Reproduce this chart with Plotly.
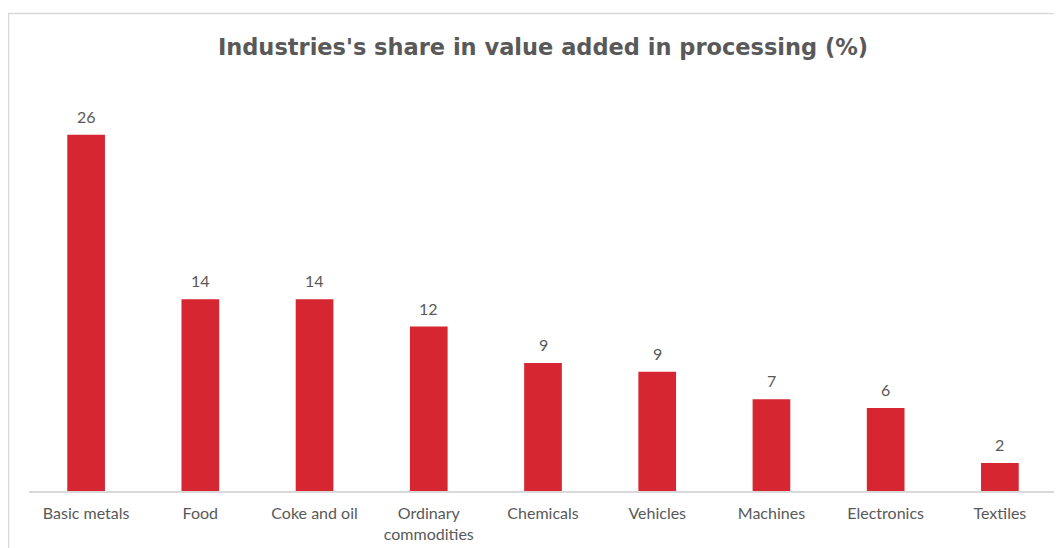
import plotly.graph_objects as go

categories = ["Basic metals", "Food", "Coke and oil", "Ordinary<br>commodities", "Chemicals",
              "Vehicles", "Machines", "Electronics", "Textiles"]
values = [26, 14, 14, 12, 9.35, 8.7, 6.7, 6.05, 2.05]

fig = go.Figure(go.Bar(
    x=categories, y=values,
    marker=dict(color="#D52631", line=dict(width=0)),
    width=0.33,
    hoverinfo="x+y",
))

for c, v in zip(categories, values):
    fig.add_annotation(x=c, y=v, text=f"{v:.0f}", showarrow=False,
                       yanchor="bottom", yshift=7,
                       font=dict(family="Lato, Open Sans, sans-serif", size=16, color="#595959"))

# the page body adds an 8px offset, so the figure is sized to fit the window
fig.update_layout(
    width=1054, height=540,
    margin=dict(l=21, r=5, t=72, b=57),
    paper_bgcolor="white", plot_bgcolor="white",
    title=dict(text="<b>Industries's share in value added in processing (%)</b>",
               x=0.5, xref="paper", xanchor="center", y=1 - 39 / 540, yref="container", yanchor="middle",
               font=dict(family="DejaVu Sans", size=22.5, color="#595959")),
    showlegend=False,
    shapes=[dict(type="rect", xref="paper", yref="paper",
                 x0=-20.5 / 1028, x1=1.05, y0=-0.3, y1=1 + 66.5 / 411,
                 line=dict(color="#D9D9D9", width=1.5), fillcolor="rgba(0,0,0,0)", layer="below")],
)
fig.update_xaxes(showline=True, linecolor="#D9D9D9", linewidth=1.5, showgrid=False, ticks="",
                 automargin=False, ticklabelstandoff=7,
                 tickfont=dict(family="Lato, Open Sans, sans-serif", size=16, color="#595959"))
fig.update_yaxes(visible=False, range=[0, 30], showgrid=False, automargin=False)

fig.write_html("out.html")
